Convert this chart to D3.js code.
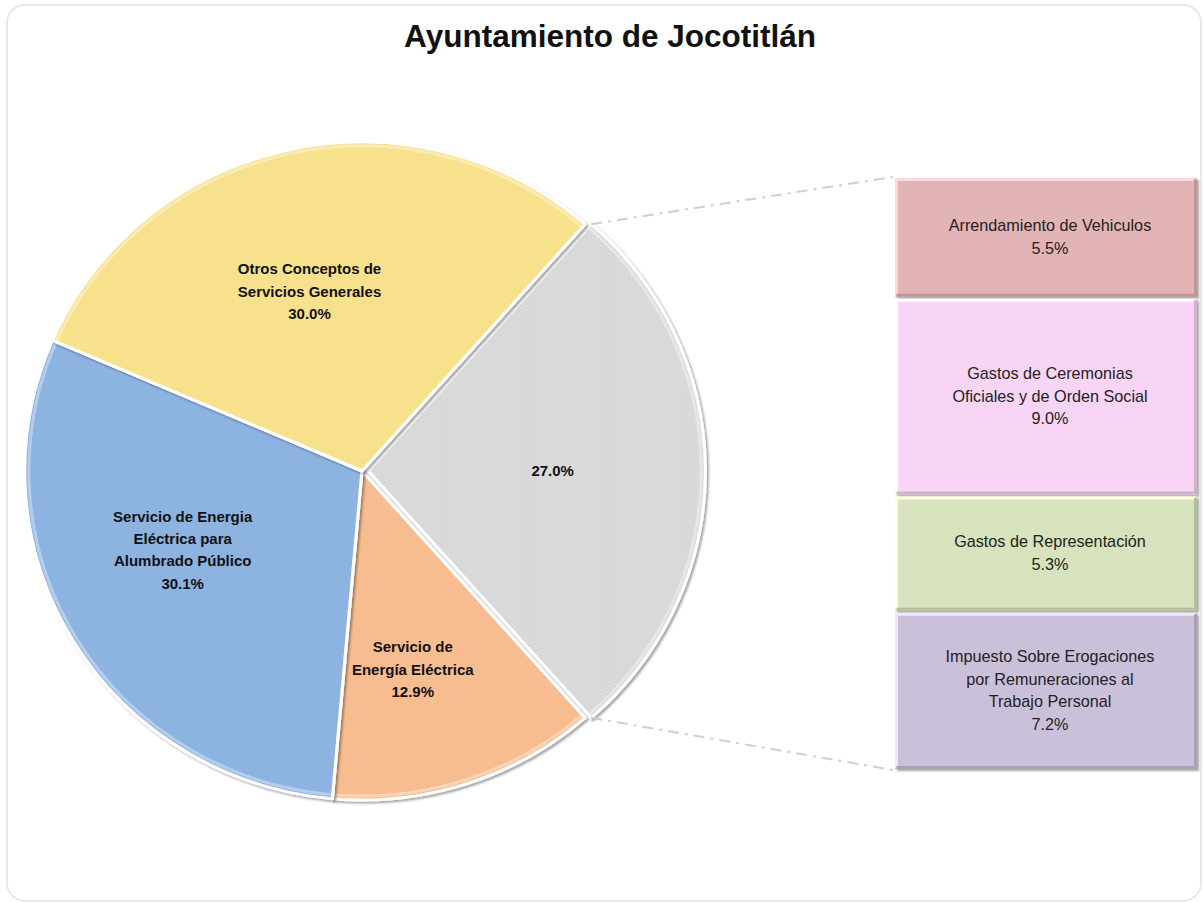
<!DOCTYPE html>
<html>
<head>
<meta charset="utf-8">
<script src="https://cdn.jsdelivr.net/npm/d3@7"></script>
<style>
  html, body { margin: 0; padding: 0; background: #fff; }
  svg { display: block; }
  text { font-family: "Liberation Sans", Arial, sans-serif; }
</style>
</head>
<body>
<svg id="chart" width="1203" height="904"></svg>
<script>
// ---- data ----
const title = "Ayuntamiento de Jocotitlán";
const pieCategories = [
  "Otros",
  "Servicio de Energía Eléctrica",
  "Servicio de Energia Eléctrica para Alumbrado Público",
  "Otros Conceptos de Servicios Generales"
];
const pieLabelLines = [
  [],
  ["Servicio de", "Energía Eléctrica"],
  ["Servicio de Energia", "Eléctrica para", "Alumbrado Público"],
  ["Otros Conceptos de", "Servicios Generales"]
];
const pieValues = [27.0, 12.9, 30.1, 30.0];
const pieColors = ["#d9d9d9", "#f7bd91", "#8db3e1", "#f8e18d"];

const barCategories = [
  ["Arrendamiento de Vehiculos"],
  ["Gastos de Ceremonias", "Oficiales y de Orden Social"],
  ["Gastos de Representación"],
  ["Impuesto Sobre Erogaciones", "por Remuneraciones al", "Trabajo Personal"]
];
const barValues = [5.5, 9.0, 5.3, 7.2];
const barColors = ["#e2b4b5", "#f8d5f4", "#d6e3bc", "#cbc0d9"];

// ---- layout ----
const svg = d3.select("#chart");
const cx = 362, cy = 471, R = 329, sx = 1.025;
const explode = 6;
const bar = { x0: 895, x1: 1197, y0: 177, y1: 770 };
const labelNudge = [[0, 0], [-10, 18], [-12, -18], [-10, 6]];

const defs = svg.append("defs");
const pat = defs.append("pattern").attr("id", "dots")
  .attr("width", 4).attr("height", 4).attr("patternUnits", "userSpaceOnUse");
pat.append("rect").attr("width", 4).attr("height", 4).attr("fill", "#d6d6d6");
pat.append("circle").attr("cx", 1).attr("cy", 1).attr("r", 0.8).attr("fill", "#e4e4e4");
pat.append("circle").attr("cx", 3).attr("cy", 3).attr("r", 0.8).attr("fill", "#e4e4e4");

const sh = defs.append("filter").attr("id", "shadow")
  .attr("x", "-10%").attr("y", "-10%").attr("width", "120%").attr("height", "120%");
sh.append("feDropShadow").attr("dx", 2).attr("dy", 2).attr("stdDeviation", 1.2)
  .attr("flood-color", "#000").attr("flood-opacity", 0.35);

// outer frame
svg.append("rect").attr("x", 7).attr("y", 5).attr("width", 1194).attr("height", 896)
  .attr("rx", 18).attr("fill", "#fff").attr("stroke", "#e2e2e2").attr("stroke-width", 1.5);

// title
svg.append("text").attr("x", 610).attr("y", 47).attr("text-anchor", "middle")
  .attr("font-size", 31.5).attr("font-weight", "bold").attr("fill", "#111").text(title);

// pie
const deg = Math.PI / 180;
const total = d3.sum(pieValues);
const start = (90 - (pieValues[0] / total) * 180) * deg;
const pie = d3.pie().sort(null).value(d => d).startAngle(start).endAngle(start + 2 * Math.PI);
const arcs = pie(pieValues);
const arc = d3.arc().innerRadius(0).outerRadius(R);

const pieG = svg.append("g").attr("transform", `translate(${cx},${cy}) scale(${sx},1)`);

arcs.forEach((a, i) => {
  const mid = (a.startAngle + a.endAngle) / 2;
  const off = i === 0 ? explode : 0;
  const [ox, oy] = d3.pointRadial(mid, off);
  const g = pieG.append("g").attr("transform", `translate(${ox},${oy})`);
  g.append("path").attr("d", arc(a))
    .attr("fill", i === 0 ? "url(#dots)" : pieColors[i])
    .attr("stroke", "#fff").attr("stroke-width", 3).attr("stroke-linejoin", "round")
    .attr("filter", "url(#shadow)");
  const inner = d3.arc().innerRadius(0).outerRadius(R - 4);
  g.append("path").attr("d", inner(a)).attr("fill", "none")
    .attr("stroke", "#fff").attr("stroke-opacity", 0.35).attr("stroke-width", 3);
});

// pie labels
arcs.forEach((a, i) => {
  const mid = (a.startAngle + a.endAngle) / 2;
  const off = i === 0 ? explode : 0;
  const [px, py] = d3.pointRadial(mid, (i === 0 ? 180 : 190) + off);
  const lines = pieLabelLines[i].concat([d3.format(".1f")(pieValues[i]) + "%"]);
  const lh = 22.3;
  const x = cx + px * sx + labelNudge[i][0];
  const yc = cy + py + labelNudge[i][1];
  const t = svg.append("text").attr("text-anchor", "middle")
    .attr("font-size", 15).attr("font-weight", "bold").attr("fill", "#111");
  lines.forEach((l, k) => {
    t.append("tspan").attr("x", x)
      .attr("y", yc + (k - (lines.length - 1) / 2) * lh + 5).text(l);
  });
});

// bar of pie
const y = d3.scaleLinear().domain([0, d3.sum(barValues)]).range([bar.y0, bar.y1]);
let cum = 0;
const segs = barValues.map(v => { const s = { a: cum, b: cum + v, v }; cum += v; return s; });
const barG = svg.append("g");
segs.forEach((s, i) => {
  const y0 = y(s.a), y1 = y(s.b);
  barG.append("rect").attr("x", bar.x0).attr("y", y0 + 1)
    .attr("width", bar.x1 - bar.x0).attr("height", y1 - y0 - 2)
    .attr("fill", barColors[i]).attr("filter", "url(#shadow)");
  const c = d3.color(barColors[i]);
  barG.append("path")
    .attr("d", `M${bar.x0 + 1.5},${y1 - 2} L${bar.x0 + 1.5},${y0 + 2.5} L${bar.x1 - 1.5},${y0 + 2.5}`)
    .attr("fill", "none").attr("stroke", c.brighter(0.5)).attr("stroke-width", 3);
  barG.append("path")
    .attr("d", `M${bar.x1 - 1.5},${y0 + 2.5} L${bar.x1 - 1.5},${y1 - 2.5} L${bar.x0 + 1.5},${y1 - 2.5}`)
    .attr("fill", "none").attr("stroke", c.darker(0.5)).attr("stroke-width", 3);
  const lines = barCategories[i].concat([d3.format(".1f")(s.v) + "%"]);
  const lh = 22.5;
  const yc = (y0 + y1) / 2;
  const xc = (bar.x0 + bar.x1) / 2 + 4;
  const t = barG.append("text").attr("text-anchor", "middle")
    .attr("font-size", 16.2).attr("fill", "#222");
  lines.forEach((l, k) => {
    t.append("tspan").attr("x", xc)
      .attr("y", yc + (k - (lines.length - 1) / 2) * lh + 5).text(l);
  });
});

// connector lines
const g0 = arcs[0];
const mid0 = (g0.startAngle + g0.endAngle) / 2;
const [ex, ey] = d3.pointRadial(mid0, explode);
const pTop = d3.pointRadial(g0.startAngle, R);
const pBot = d3.pointRadial(g0.endAngle, R);
[[pTop, bar.y0], [pBot, bar.y1]].forEach(([p, by]) => {
  svg.append("line")
    .attr("x1", cx + (p[0] + ex) * sx).attr("y1", cy + p[1] + ey)
    .attr("x2", bar.x0 - 2).attr("y2", by)
    .attr("stroke", "#cfcfcf").attr("stroke-width", 2)
    .attr("stroke-dasharray", "11,6,3,6");
});
</script>
</body>
</html>
